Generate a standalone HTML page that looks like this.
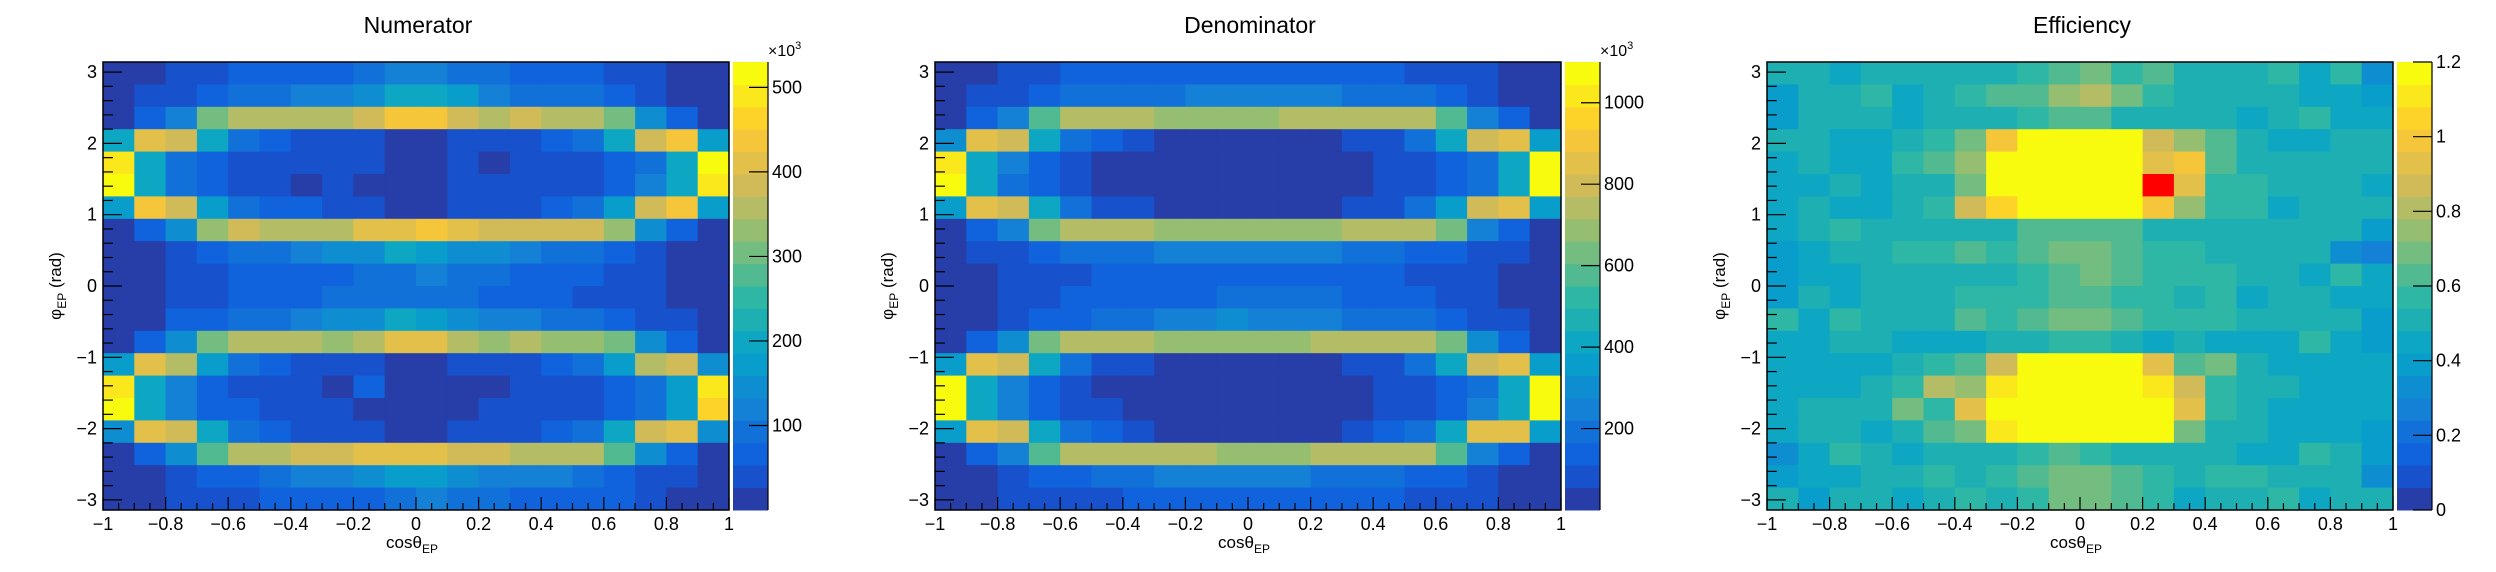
<!DOCTYPE html>
<html><head><meta charset="utf-8">
<style>
html,body{margin:0;padding:0;background:#fff;}
svg{display:block;font-family:"Liberation Sans",Arial,sans-serif;}
</style></head>
<body>
<svg id="root" width="2496" height="572" viewBox="0 0 2496 572" xmlns="http://www.w3.org/2000/svg"></svg>
<script>
// ---- data ----
const xEdges = [-1,-0.9,-0.8,-0.7,-0.6,-0.5,-0.4,-0.3,-0.2,-0.1,0,0.1,0.2,0.3,0.4,0.5,0.6,0.7,0.8,0.9,1];
const panelTitles = ["Numerator","Denominator","Efficiency"];
const zMax = [530, 1100, 1.2];
const zTicks0 = [100,200,300,400,500];
const zTicks1 = [200,400,600,800,1000];
const zTicks2 = [0,0.2,0.4,0.6,0.8,1,1.2];
const zTickLabels2 = ["0","0.2","0.4","0.6","0.8","1","1.2"];
const xTickLabels = ["\u22121","\u22120.8","\u22120.6","\u22120.4","\u22120.2","0","0.2","0.4","0.6","0.8","1"];
const yTickLabels = ["\u22123","\u22122","\u22121","0","1","2","3"];
// rows listed from top (phi = +pi) to bottom (phi = -pi); values in x10^3 for num/den
const numerator = [
[13,13,40,40,66,66,66,66,93,119,119,93,93,66,66,66,40,40,13,13],
[13,40,40,66,93,93,119,119,146,199,199,172,119,93,93,93,66,40,13,13],
[13,66,119,305,358,358,358,358,384,437,437,384,358,384,358,358,305,146,66,13],
[199,411,384,199,93,66,40,40,40,13,13,40,40,40,66,93,199,384,437,172],
[490,199,93,66,40,40,40,40,40,13,13,40,13,40,40,40,66,93,199,517],
[517,199,93,66,40,40,13,40,13,13,13,40,40,40,40,40,66,119,199,490],
[172,437,384,172,93,66,66,40,40,13,13,40,40,40,66,93,172,384,437,172],
[13,66,146,331,384,358,358,358,411,411,437,411,384,384,384,384,331,146,66,13],
[13,13,40,66,93,93,119,146,146,199,172,146,146,119,93,93,66,40,13,13],
[13,13,40,40,66,66,66,66,93,93,119,93,93,66,66,66,40,40,13,13],
[13,13,40,40,66,66,66,93,93,93,93,93,66,66,66,40,40,40,13,13],
[13,13,66,66,93,93,119,146,146,199,172,146,119,119,93,93,66,40,40,13],
[13,66,146,305,358,358,358,331,358,411,411,358,331,358,331,331,305,146,66,13],
[172,411,358,172,93,66,40,40,40,13,13,40,40,40,66,93,172,358,384,146],
[490,199,119,66,40,40,40,13,66,13,13,13,13,40,40,40,66,93,172,490],
[517,199,119,66,66,40,40,40,13,13,13,13,40,40,40,40,66,93,172,464],
[146,411,384,199,93,66,40,40,40,13,13,40,40,40,66,93,199,384,411,146],
[13,66,146,278,358,358,384,384,411,411,411,384,384,358,358,358,278,146,66,13],
[13,13,40,66,66,93,119,119,146,172,172,146,119,119,119,93,66,40,40,13],
[13,13,40,40,40,66,66,66,66,93,119,93,93,66,66,66,66,40,13,13]
];
const denominator = [
[28,28,83,83,138,138,138,138,138,138,138,138,138,138,138,83,83,83,28,28],
[28,83,83,138,193,193,193,193,248,248,248,248,248,193,193,193,138,83,28,28],
[28,138,248,578,743,743,743,688,688,688,688,743,743,743,743,743,578,248,138,28],
[303,853,798,413,193,138,83,28,28,28,28,28,28,83,83,193,413,798,853,358],
[1018,413,248,138,83,28,28,28,28,28,28,28,28,28,83,83,138,193,413,1073],
[1073,413,193,138,83,28,28,28,28,28,28,28,28,28,83,83,138,193,413,1073],
[358,853,798,413,193,83,83,28,28,28,28,28,28,83,83,193,358,798,853,358],
[28,138,248,633,743,743,743,688,688,688,688,688,688,743,743,743,633,248,138,28],
[28,83,83,138,193,193,193,248,248,248,248,248,248,193,193,138,138,83,83,28],
[28,28,83,83,83,138,138,138,138,138,138,138,138,138,138,83,83,83,28,28],
[28,28,83,83,138,138,138,138,138,193,193,193,193,138,138,138,83,83,28,28],
[28,28,83,138,138,193,193,248,248,303,248,248,248,193,193,193,138,83,83,28],
[28,138,303,633,743,743,743,688,688,688,688,688,743,743,743,743,633,303,138,28],
[358,853,798,413,193,83,83,28,28,28,28,28,28,83,83,193,413,798,853,358],
[1073,413,248,138,83,28,28,28,28,28,28,28,28,28,83,83,138,193,413,1073],
[1073,413,248,138,83,83,28,28,28,28,28,28,28,28,83,83,138,248,413,1073],
[358,853,798,413,193,138,83,28,28,28,28,28,28,83,138,193,413,853,853,358],
[28,138,248,578,743,743,743,743,743,688,688,688,743,743,743,743,578,248,138,28],
[28,28,83,138,138,193,193,248,248,248,248,248,193,193,193,138,138,83,28,28],
[28,28,83,83,83,83,138,138,138,138,138,138,138,138,138,83,83,83,28,28]
];
const efficiency = [
[0.51,0.51,0.45,0.51,0.51,0.51,0.51,0.51,0.57,0.63,0.69,0.57,0.63,0.51,0.51,0.51,0.57,0.45,0.57,0.33],
[0.39,0.51,0.51,0.57,0.45,0.51,0.57,0.63,0.63,0.75,0.81,0.69,0.57,0.51,0.51,0.51,0.51,0.45,0.45,0.39],
[0.39,0.51,0.51,0.51,0.45,0.51,0.51,0.51,0.57,0.63,0.63,0.51,0.51,0.51,0.51,0.45,0.51,0.57,0.45,0.45],
[0.51,0.51,0.45,0.45,0.51,0.57,0.69,0.99,1.17,1.17,1.17,1.17,0.87,0.75,0.63,0.51,0.45,0.45,0.51,0.51],
[0.45,0.51,0.45,0.45,0.57,0.63,0.75,1.17,1.17,1.17,1.17,1.17,0.93,0.99,0.63,0.51,0.51,0.51,0.51,0.51],
[0.45,0.45,0.51,0.45,0.51,0.51,0.69,1.17,1.17,1.17,1.17,1.17,1.6,0.93,0.57,0.57,0.51,0.51,0.51,0.45],
[0.45,0.51,0.45,0.45,0.51,0.57,0.87,1.05,1.17,1.17,1.17,1.17,0.99,0.75,0.57,0.57,0.45,0.51,0.51,0.51],
[0.45,0.51,0.57,0.51,0.51,0.51,0.51,0.51,0.63,0.63,0.63,0.63,0.51,0.51,0.51,0.51,0.51,0.51,0.51,0.39],
[0.39,0.45,0.51,0.51,0.57,0.57,0.63,0.57,0.63,0.69,0.69,0.63,0.57,0.57,0.51,0.51,0.51,0.51,0.33,0.27],
[0.39,0.45,0.45,0.51,0.51,0.51,0.51,0.51,0.57,0.63,0.69,0.63,0.57,0.57,0.57,0.51,0.51,0.45,0.57,0.45],
[0.39,0.51,0.45,0.51,0.51,0.51,0.57,0.57,0.57,0.63,0.63,0.57,0.57,0.51,0.57,0.45,0.51,0.51,0.45,0.45],
[0.57,0.45,0.57,0.51,0.51,0.51,0.63,0.57,0.63,0.69,0.69,0.63,0.57,0.57,0.57,0.51,0.51,0.51,0.51,0.39],
[0.45,0.45,0.51,0.51,0.45,0.45,0.45,0.51,0.51,0.57,0.57,0.51,0.45,0.51,0.45,0.45,0.45,0.57,0.45,0.39],
[0.45,0.45,0.45,0.45,0.51,0.57,0.63,0.87,1.17,1.17,1.17,1.17,0.93,0.63,0.69,0.51,0.45,0.45,0.45,0.45],
[0.45,0.45,0.45,0.51,0.57,0.81,0.75,1.11,1.17,1.17,1.17,1.17,1.11,0.87,0.57,0.51,0.51,0.45,0.45,0.45],
[0.45,0.51,0.51,0.51,0.69,0.57,0.93,1.17,1.17,1.17,1.17,1.17,1.17,0.93,0.57,0.51,0.45,0.45,0.45,0.45],
[0.45,0.51,0.51,0.45,0.51,0.63,0.69,1.11,1.17,1.17,1.17,1.17,1.17,0.69,0.51,0.51,0.45,0.45,0.45,0.39],
[0.33,0.45,0.57,0.51,0.45,0.51,0.51,0.51,0.57,0.63,0.57,0.51,0.51,0.51,0.51,0.45,0.45,0.57,0.51,0.39],
[0.39,0.45,0.45,0.51,0.51,0.57,0.51,0.57,0.63,0.69,0.69,0.63,0.57,0.51,0.57,0.57,0.51,0.51,0.51,0.33],
[0.51,0.39,0.51,0.51,0.45,0.51,0.57,0.51,0.57,0.69,0.69,0.63,0.57,0.45,0.51,0.51,0.57,0.45,0.51,0.51]
];
const panelData = [numerator, denominator, efficiency];
const panelZTicks = [zTicks0, zTicks1, zTicks2];

// ---- drawing ----
const NS = "http://www.w3.org/2000/svg";
const svg = document.getElementById("root");
const PW = 832, PX0 = 103, PX1 = 729, PY0 = 62, PY1 = 510, CX0 = 733, CX1 = 768;
const XMIN = -1, XMAX = 1, YMIN = -Math.PI, YMAX = Math.PI;
const bird = {s:[0,0.125,0.25,0.375,0.5,0.625,0.75,0.875,1],
 r:[0.2082,0.0592,0.0780,0.0232,0.1802,0.5301,0.8186,0.9956,0.9764],
 g:[0.1664,0.3599,0.5041,0.6419,0.7178,0.7492,0.7328,0.7862,0.9832],
 b:[0.5293,0.8684,0.8385,0.7914,0.6425,0.4662,0.3499,0.1968,0.0539]};
function birdColor(t){
  t=Math.max(0,Math.min(1,t));
  let i=Math.min(7,Math.floor(t*8)); const f=(t-bird.s[i])/0.125;
  const c=k=>Math.round(255*(bird[k][i]+(bird[k][i+1]-bird[k][i])*f));
  return `rgb(${c('r')},${c('g')},${c('b')})`;
}
function levelT(L){ return Math.min(254, Math.floor((L+0.99)*12.75))/254; }
function levelColor(v,max){
  if(v>max) return "#ff0000";
  const L=Math.min(19,Math.floor(v/max*20));
  return birdColor(levelT(L));
}
function mk(tag,attrs,parent){const e=document.createElementNS(NS,tag);for(const k in attrs)e.setAttribute(k,attrs[k]);(parent||svg).appendChild(e);return e;}

const defs=mk("defs",{});
panelTitles.forEach((title,p)=>{
  const ox=p*PW;
  const cp=mk("clipPath",{id:"clip"+p},defs);
  mk("rect",{x:ox,y:0,width:PW,height:572},cp);
  const sx=x=>ox+PX0+(x-XMIN)/(XMAX-XMIN)*(PX1-PX0);
  const sy=y=>PY1-(y-YMIN)/(YMAX-YMIN)*(PY1-PY0);
  const g=mk("g",{"clip-path":`url(#clip${p})`});
  
  
  const data=panelData[p], max=zMax[p], nR=data.length;
  const yStep=(YMAX-YMIN)/nR;
  const cells=mk("g",{},g);
  
  
  data.forEach((row,r)=>{
    const yTop=YMAX-r*yStep, yBot=yTop-yStep;
    row.forEach((v,c)=>{
      const x0=sx(xEdges[c]), x1=sx(xEdges[c+1]);
      const rc=mk("rect",{x:x0,y:sy(yTop),width:x1-x0+0.5,height:sy(yBot)-sy(yTop)+0.5,fill:levelColor(v,max)},cells);
      
      
    });
  });
  const fr=mk("rect",{x:ox+PX0,y:PY0,width:PX1-PX0,height:PY1-PY0,fill:"none",stroke:"#000","stroke-width":1.5},g);
  
  
  for(let i=0;i<=40;i++){
    const xv=-1+i*0.05, X=sx(xv), major=(i%4===0);
    mk("line",{x1:X,x2:X,y1:PY1,y2:PY1-(major?13:7),stroke:"#000","stroke-width":1.2},g);
  }
  xTickLabels.forEach((lab,i)=>{
    const t=mk("text",{x:sx(-1+i*0.2),y:530,"font-size":18,"text-anchor":"middle"},g);
    t.textContent=lab;
    
    
  });
  for(let k=-15;k<=15;k++){
    const yv=k*0.2, Y=sy(yv), major=(k%5===0);
    mk("line",{x1:ox+PX0,x2:ox+PX0+(major?19:10),y1:Y,y2:Y,stroke:"#000","stroke-width":1.2},g);
  }
  yTickLabels.forEach((lab,i)=>{
    const t=mk("text",{x:ox+97,y:sy(i-3)+6,"font-size":18,"text-anchor":"end"},g);
    t.textContent=lab;
    
    
  });
  const tt=mk("text",{x:ox+418,y:33,"font-size":23,"text-anchor":"middle"},g);
  tt.textContent=title;
  
  
  const xt=mk("text",{x:ox+412,y:548,"font-size":17,"text-anchor":"middle"},g);
  xt.innerHTML='cos\u03B8<tspan font-size="12" dy="5">EP</tspan>';
  
  
  const yt=mk("text",{transform:`translate(${ox+61},${(PY0+PY1)/2}) rotate(-90)`,"font-size":17,"text-anchor":"middle"},g);
  yt.innerHTML='\u03C6<tspan font-size="12" dy="5">EP</tspan><tspan dy="-5"> (rad)</tspan>';
  
  
  const pal=mk("g",{},g);
  
  
  const bh=(PY1-PY0)/20;
  for(let L=0;L<20;L++){
    mk("rect",{x:ox+CX0,y:PY1-(L+1)*bh,width:CX1-CX0,height:bh+0.5,fill:birdColor(levelT(L))},pal);
  }
  mk("line",{x1:ox+CX1,x2:ox+CX1,y1:PY0,y2:PY1,stroke:"#000","stroke-width":1.2},pal);
  panelZTicks[p].forEach((zv,i)=>{
    const Y=PY1-zv/max*(PY1-PY0);
    mk("line",{x1:ox+CX1-19,x2:ox+CX1,y1:Y,y2:Y,stroke:"#000","stroke-width":1.2},pal);
    const t=mk("text",{x:ox+CX1+4,y:Y+6,"font-size":18},pal);
    t.textContent= p===2 ? zTickLabels2[i] : String(zv);
    
    
  });
  if(p<2){
    const ex=mk("text",{x:ox+CX1,y:56,"font-size":16},pal);
    ex.innerHTML='\u00D710<tspan font-size="11" dy="-7">3</tspan>';
    
    
  }
});
</script>
</body></html>
